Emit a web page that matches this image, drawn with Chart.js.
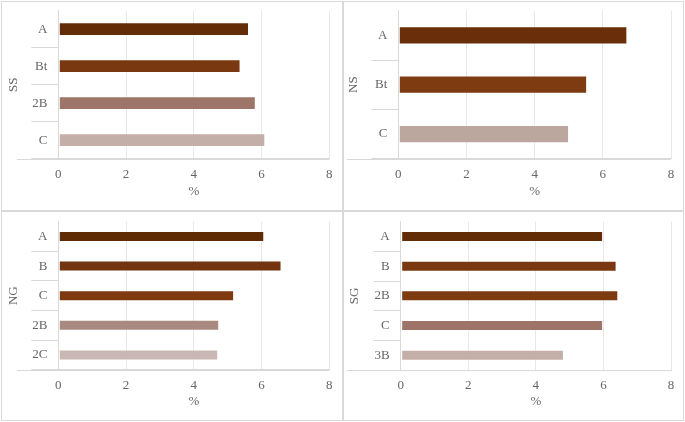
<!DOCTYPE html>
<html>
<head>
<meta charset="utf-8">
<script src="https://cdn.jsdelivr.net/npm/chart.js@4.4.0/dist/chart.umd.min.js"></script>
<style>
    body { margin: 0; background: #fff; }
    #wrap { position: relative; width: 685px; height: 422px; overflow: hidden; }
    .panel { position: absolute; box-sizing: border-box; border: 1px solid #d9d9d9; }
    canvas { display: block; }
</style>
</head>
<body>
<div id="wrap">
    <div class="panel" style="left:1px;top:1px;width:342px;height:210px"><canvas id="c1" width="340" height="208"></canvas></div>
    <div class="panel" style="left:343px;top:1px;width:341px;height:210px"><canvas id="c2" width="339" height="208"></canvas></div>
    <div class="panel" style="left:1px;top:211px;width:342px;height:210px"><canvas id="c3" width="340" height="208"></canvas></div>
    <div class="panel" style="left:343px;top:211px;width:341px;height:210px"><canvas id="c4" width="339" height="208"></canvas></div>
</div>
<script>
// x axis ticks (%)
const xTicks = [0, 2, 4, 6, 8];

// SS profile
const ssLabels = ['A', 'Bt', '2B', 'C'];
const ssValues = [5.63, 5.38, 5.83, 6.11];

// NS profile
const nsLabels = ['A', 'Bt', 'C'];
const nsValues = [6.72, 5.54, 5.01];

// NG profile
const ngLabels = ['A', 'B', 'C', '2B', '2C'];
const ngValues = [6.08, 6.59, 5.19, 4.75, 4.72];

// SG profile
const sgLabels = ['A', 'B', '2B', 'C', '3B'];
const sgValues = [5.99, 6.39, 6.44, 5.99, 4.83];

// bar colours per horizon
const ssColors = ['#632d07', '#7a3810', '#9e7569', '#c4aea8'];
const nsColors = ['#6a2f0a', '#7e3a10', '#bca79f'];
const ngColors = ['#5f2b05', '#733410', '#7e3a0e', '#a98a80', '#c8b7b2'];
const sgColors = ['#612c06', '#7a3810', '#7e3b10', '#9e7468', '#c4aea8'];

const lineColor = '#d9d9d9';
const textColor = '#666666';
const font = { family: '"Liberation Serif", "Times New Roman", serif', size: 13 };

// draws the base line of the category axis, reaching out under the labels
const baseLine = {
    id: 'baseLine',
    afterDraw(chart, args, opts) {
        const { ctx, chartArea } = chart;
        const y = Math.round(chartArea.bottom) + 0.5;
        ctx.save();
        ctx.strokeStyle = lineColor;
        ctx.lineWidth = 1;
        ctx.beginPath();
        ctx.moveTo(opts.from, y);
        ctx.lineTo(chartArea.right, y);
        ctx.stroke();
        ctx.restore();
    }
};

function makeChart(id, title, labels, values, colors, lay) {
    return new Chart(document.getElementById(id), {
        type: 'bar',
        data: {
            labels: labels,
            datasets: [{
                data: values,
                backgroundColor: colors,
                borderColor: 'rgba(255,255,255,0.3)',
                borderWidth: 1,
                borderSkipped: false,
                barPercentage: 0.37,
                categoryPercentage: 1
            }]
        },
        options: {
            indexAxis: 'y',
            responsive: false,
            animation: false,
            devicePixelRatio: 1,
            layout: { padding: { top: lay.top, right: lay.right, left: 0, bottom: 0 } },
            plugins: {
                legend: { display: false },
                tooltip: { enabled: false },
                baseLine: { from: lay.lineFrom }
            },
            scales: {
                x: {
                    min: xTicks[0],
                    max: xTicks[xTicks.length - 1],
                    afterBuildTicks: s => { s.ticks = xTicks.map(v => ({ value: v })); },
                    afterFit: s => { s.height = lay.xHeight; },
                    grid: { color: '#e8e8e8', drawTicks: false },
                    border: { display: true, color: lineColor },
                    ticks: { color: textColor, font: font, padding: 8 },
                    title: { display: true, text: '%', color: textColor, font: font, padding: { top: 0, bottom: 11 } }
                },
                y: {
                    afterFit: s => { s.width = lay.yWidth; },
                    grid: {
                        offset: true,
                        drawOnChartArea: false,
                        tickLength: 27,
                        color: ctx => ctx.index === 0 ? 'rgba(0,0,0,0)' : lineColor
                    },
                    border: { display: true, color: lineColor },
                    ticks: { color: textColor, font: font, padding: -16 },
                    title: { display: true, text: title, color: textColor, font: font, padding: { top: lay.titlePad, bottom: 0 } }
                }
            }
        },
        plugins: [baseLine]
    });
}

makeChart('c1', 'SS', ssLabels, ssValues, ssColors,
    { yWidth: 56.3, top: 8.7, right: 12.7, xHeight: 51.3, titlePad: 4, lineFrom: 15 });
makeChart('c2', 'NS', nsLabels, nsValues, nsColors,
    { yWidth: 54.3, top: 8.7, right: 12, xHeight: 51.3, titlePad: 2, lineFrom: 3 });
makeChart('c3', 'NG', ngLabels, ngValues, ngColors,
    { yWidth: 56.3, top: 9.7, right: 12.7, xHeight: 50.3, titlePad: 3.5, lineFrom: 15 });
makeChart('c4', 'SG', sgLabels, sgValues, sgColors,
    { yWidth: 56.7, top: 9.7, right: 12, xHeight: 50, titlePad: 3, lineFrom: 3 });
</script>
</body>
</html>
